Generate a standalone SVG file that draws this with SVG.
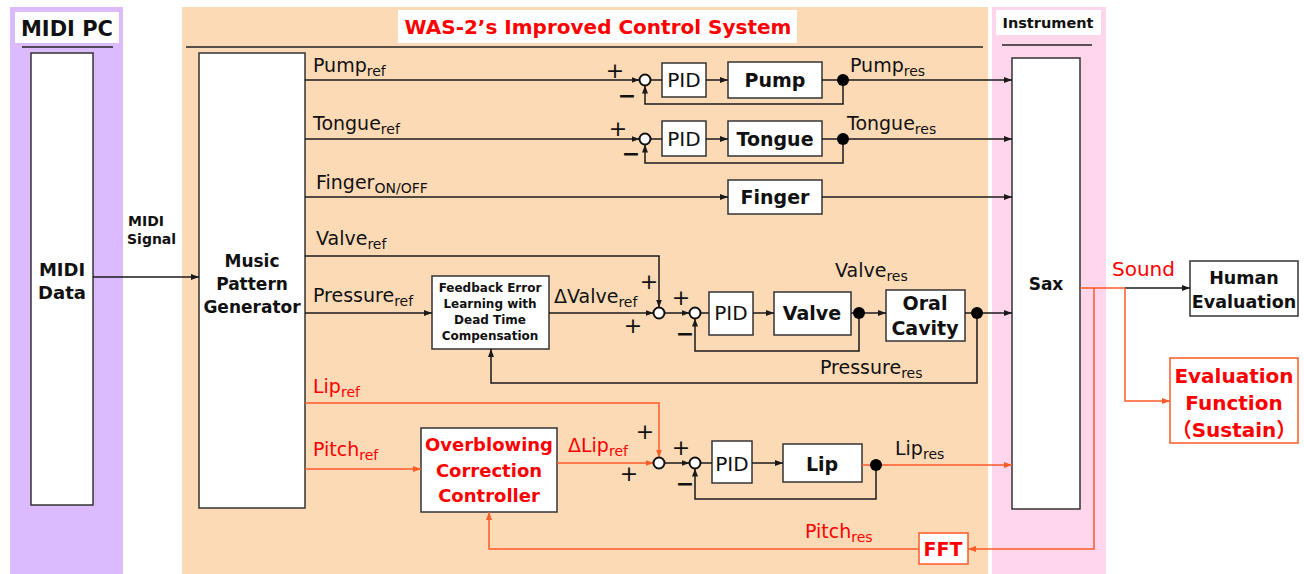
<svg xmlns="http://www.w3.org/2000/svg" width="1304" height="574" viewBox="0 0 1304 574">
<defs>
<marker id="ab" markerUnits="userSpaceOnUse" markerWidth="9" markerHeight="8" refX="8" refY="3.5" orient="auto"><path d="M0,0.5 L8,3.5 L0,6.5 z" fill="#1a1a1a"/></marker>
<marker id="ar" markerUnits="userSpaceOnUse" markerWidth="9" markerHeight="8" refX="8" refY="3.5" orient="auto"><path d="M0,0.5 L8,3.5 L0,6.5 z" fill="#ff5a28"/></marker>
</defs>
<style>
text{font-family:"DejaVu Sans","Noto Sans CJK JP",sans-serif;fill:#111}
.b{font-weight:bold}
.c{text-anchor:middle}
.r{fill:#ff0000}
.box{fill:#fff;stroke:#333;stroke-width:1.5}
.rbox{fill:#fff;stroke:#ff5a28;stroke-width:1.5}
.k{fill:none;stroke:#1a1a1a;stroke-width:1.5}
.kr{fill:none;stroke:#ff5a28;stroke-width:1.5}
.sum{fill:#fff;stroke:#111;stroke-width:2}
.lbl{font-size:19px}
.sub{font-size:14px}
.pm{font-size:22px;text-anchor:middle;dominant-baseline:central}
.mn{font-weight:bold}
</style>
<rect width="1304" height="574" fill="#fff"/>
<!-- panels -->
<g id="panel-midipc">
<rect x="10" y="7" width="113" height="567" fill="#dbbbfd"/>
<rect x="15" y="12" width="104" height="31" fill="#fff"/>
<text x="67" y="36" class="b c" font-size="21">MIDI PC</text>
<line x1="22" y1="47" x2="113" y2="47" stroke="#222" stroke-width="1.5"/>
</g>
<g id="panel-control">
<rect x="182" y="7" width="806" height="567" fill="#fcdab6"/>
<rect x="398" y="10" width="399" height="33" fill="#fff"/>
<text x="598" y="34" class="b c r" font-size="20">WAS-2’s Improved Control System</text>
<line x1="186" y1="47" x2="983" y2="47" stroke="#222" stroke-width="1.5"/>
</g>
<g id="panel-instrument">
<rect x="992" y="7" width="114" height="567" fill="#ffd6ec"/>
<rect x="996" y="10" width="105" height="25" fill="#fff"/>
<text x="1048" y="28" class="b c" font-size="14.5">Instrument</text>
<line x1="1002" y1="45" x2="1092" y2="45" stroke="#222" stroke-width="1.5"/>
</g>
<!-- nodes -->
<g id="midi-data"><rect x="31" y="53" width="62" height="452" class="box"/><text x="62" y="276" class="b c" font-size="18">MIDI</text><text x="62" y="299" class="b c" font-size="18">Data</text></g>
<g id="mpg"><rect x="199" y="53" width="106" height="455" class="box"/><text x="252" y="267" class="b c" font-size="17">Music</text><text x="252" y="290" class="b c" font-size="17">Pattern</text><text x="252" y="313" class="b c" font-size="17">Generator</text></g>
<g id="pid-pump"><rect x="662" y="63" width="44" height="34" class="box"/><text x="684" y="87" class="c" font-size="20">PID</text></g>
<g id="pump"><rect x="728" y="62" width="94" height="36" class="box"/><text x="775" y="87" class="b c lbl">Pump</text></g>
<g id="pid-tongue"><rect x="662" y="121" width="44" height="35" class="box"/><text x="684" y="146" class="c" font-size="20">PID</text></g>
<g id="tongue"><rect x="728" y="121" width="94" height="35" class="box"/><text x="775" y="146" class="b c lbl">Tongue</text></g>
<g id="finger"><rect x="728" y="180" width="94" height="34" class="box"/><text x="775" y="204" class="b c lbl">Finger</text></g>
<g id="fel"><rect x="432" y="276" width="117" height="73" class="box"/><text x="490" y="292" class="b c" font-size="12">Feedback Error</text><text x="490" y="308" class="b c" font-size="12">Learning with</text><text x="490" y="324" class="b c" font-size="12">Dead Time</text><text x="490" y="340" class="b c" font-size="12">Compensation</text></g>
<g id="pid-valve"><rect x="709" y="292" width="44" height="43" class="box"/><text x="731" y="320" class="c" font-size="20">PID</text></g>
<g id="valve"><rect x="774" y="292" width="77" height="43" class="box"/><text x="812" y="320" class="b c lbl">Valve</text></g>
<g id="oral-cavity"><rect x="886" y="290" width="79" height="51" class="box"/><text x="925" y="310" class="b c lbl">Oral</text><text x="925" y="335" class="b c lbl">Cavity</text></g>
<g id="occ"><rect x="421" y="428" width="136" height="84" class="box"/><text x="489" y="451" class="b c r" font-size="18">Overblowing</text><text x="489" y="477" class="b c r" font-size="18">Correction</text><text x="489" y="502" class="b c r" font-size="18">Controller</text></g>
<g id="pid-lip"><rect x="712" y="441" width="40" height="42" class="box"/><text x="732" y="471" class="c" font-size="20">PID</text></g>
<g id="lip"><rect x="783" y="444" width="79" height="38" class="box"/><text x="822" y="471" class="b c lbl">Lip</text></g>
<g id="sax"><rect x="1012" y="58" width="68" height="451" class="box"/><text x="1046" y="290" class="b c" font-size="17">Sax</text></g>
<g id="human-eval"><rect x="1190" y="261" width="108" height="55" class="box"/><text x="1244" y="284" class="b c" font-size="17.5">Human</text><text x="1244" y="308" class="b c" font-size="17.5">Evaluation</text></g>
<g id="eval-func"><rect x="1170" y="358" width="128" height="85" class="rbox"/><text x="1234" y="383" class="b c r" font-size="20">Evaluation</text><text x="1234" y="410" class="b c r" font-size="20">Function</text><text x="1234" y="437" class="b c r" font-size="20">（Sustain）</text></g>
<g id="fft"><rect x="919" y="533" width="49" height="31" class="rbox"/><text x="943" y="556" class="b c r" font-size="19">FFT</text></g>
<!-- connectors -->
<g id="connectors">
<path class="k" d="M93,277 H199" marker-end="url(#ab)"/>
<path class="k" d="M305,80 H639.5" marker-end="url(#ab)"/>
<path class="k" d="M650.5,80 H662"/>
<path class="k" d="M706,80 H728" marker-end="url(#ab)"/>
<path class="k" d="M822,80 H843"/>
<path class="k" d="M843,80 H1012" marker-end="url(#ab)"/>
<path class="k" d="M843,80 V104 H645 V85.5" marker-end="url(#ab)"/>
<path class="k" d="M305,139 H639.5" marker-end="url(#ab)"/>
<path class="k" d="M650.5,139 H662"/>
<path class="k" d="M706,139 H728" marker-end="url(#ab)"/>
<path class="k" d="M822,139 H843"/>
<path class="k" d="M843,139 H1012" marker-end="url(#ab)"/>
<path class="k" d="M843,139 V163 H645 V144.5" marker-end="url(#ab)"/>
<path class="k" d="M305,197 H728" marker-end="url(#ab)"/>
<path class="k" d="M822,197 H1012" marker-end="url(#ab)"/>
<path class="k" d="M305,256 H659 V307.5" marker-end="url(#ab)"/>
<path class="k" d="M305,313 H432" marker-end="url(#ab)"/>
<path class="k" d="M549,313 H653.5" marker-end="url(#ab)"/>
<path class="k" d="M664.5,313 H689.5" marker-end="url(#ab)"/>
<path class="k" d="M700.5,313 H709"/>
<path class="k" d="M753,313 H774" marker-end="url(#ab)"/>
<path class="k" d="M851,313 H859"/>
<path class="k" d="M859,313 H886" marker-end="url(#ab)"/>
<path class="k" d="M965,313 H977"/>
<path class="k" d="M977,313 H1012" marker-end="url(#ab)"/>
<path class="k" d="M859,313 V351 H695 V318.5" marker-end="url(#ab)"/>
<path class="k" d="M977,313 V383 H491 V349" marker-end="url(#ab)"/>
<path class="kr" d="M305,403 H659 V457.5" marker-end="url(#ar)"/>
<path class="kr" d="M305,469 H421" marker-end="url(#ar)"/>
<path class="kr" d="M557,463 H653.5" marker-end="url(#ar)"/>
<path class="k" d="M664.5,463 H689.5" marker-end="url(#ab)"/>
<path class="k" d="M700.5,463 H712"/>
<path class="k" d="M752,463 H783" marker-end="url(#ab)"/>
<path class="kr" d="M862,465 H876"/>
<path class="kr" d="M876,465 H1012" marker-end="url(#ar)"/>
<path class="k" d="M876,465 V499 H695 V468.5" marker-end="url(#ab)"/>
<path class="kr" d="M1080,288 H1125"/>
<path class="k" d="M1125,288 H1190" marker-end="url(#ab)"/>
<path class="kr" d="M1125,288 V401 H1170" marker-end="url(#ar)"/>
<path class="kr" d="M1094,288 V549 H968" marker-end="url(#ar)"/>
<path class="kr" d="M919,549 H489 V512" marker-end="url(#ar)"/>
<circle cx="645" cy="80" r="5.5" class="sum"/>
<circle cx="645" cy="139" r="5.5" class="sum"/>
<circle cx="659" cy="313" r="5.5" class="sum"/>
<circle cx="695" cy="313" r="5.5" class="sum"/>
<circle cx="659" cy="463" r="5.5" class="sum"/>
<circle cx="695" cy="463" r="5.5" class="sum"/>
<circle cx="843" cy="80" r="6" fill="#000"/>
<circle cx="843" cy="139" r="6" fill="#000"/>
<circle cx="859" cy="313" r="6" fill="#000"/>
<circle cx="977" cy="313" r="6" fill="#000"/>
<circle cx="876" cy="465" r="6" fill="#000"/>
</g>
<g id="labels">
<text x="313" y="72" class="lbl">Pump<tspan class="sub" dy="4">ref</tspan></text>
<text x="313" y="130" class="lbl">Tongue<tspan class="sub" dy="4">ref</tspan></text>
<text x="316" y="189" class="lbl">Finger<tspan class="sub" dy="4">ON/OFF</tspan></text>
<text x="316" y="245" class="lbl">Valve<tspan class="sub" dy="4">ref</tspan></text>
<text x="313" y="302" class="lbl">Pressure<tspan class="sub" dy="4">ref</tspan></text>
<text x="313" y="393" class="lbl r">Lip<tspan class="sub" dy="4">ref</tspan></text>
<text x="313" y="456" class="lbl r">Pitch<tspan class="sub" dy="4">ref</tspan></text>
<text x="554" y="303" class="lbl">ΔValve<tspan class="sub" dy="4">ref</tspan></text>
<text x="568" y="452" class="lbl r">ΔLip<tspan class="sub" dy="4">ref</tspan></text>
<text x="850" y="72" class="lbl">Pump<tspan class="sub" dy="4">res</tspan></text>
<text x="847" y="130" class="lbl">Tongue<tspan class="sub" dy="4">res</tspan></text>
<text x="835" y="277" class="lbl">Valve<tspan class="sub" dy="4">res</tspan></text>
<text x="820" y="374" class="lbl">Pressure<tspan class="sub" dy="4">res</tspan></text>
<text x="895" y="455" class="lbl">Lip<tspan class="sub" dy="4">res</tspan></text>
<text x="805" y="538" class="lbl r">Pitch<tspan class="sub" dy="4">res</tspan></text>
<text x="1112" y="276" class="r" font-size="20">Sound</text>
<text x="128" y="226" class="b" font-size="14">MIDI</text>
<text x="127" y="244" class="b" font-size="14">Signal</text>
<text x="615" y="70" class="pm">+</text><text x="627" y="95" class="pm mn">−</text>
<text x="618" y="128" class="pm">+</text><text x="631" y="153" class="pm mn">−</text>
<text x="649" y="281" class="pm">+</text><text x="633" y="325" class="pm">+</text><text x="681" y="297" class="pm">+</text><text x="685" y="333" class="pm mn">−</text>
<text x="645" y="431" class="pm">+</text><text x="629" y="473" class="pm">+</text><text x="681" y="447" class="pm">+</text><text x="685" y="483" class="pm mn">−</text>
</g>
</svg>
